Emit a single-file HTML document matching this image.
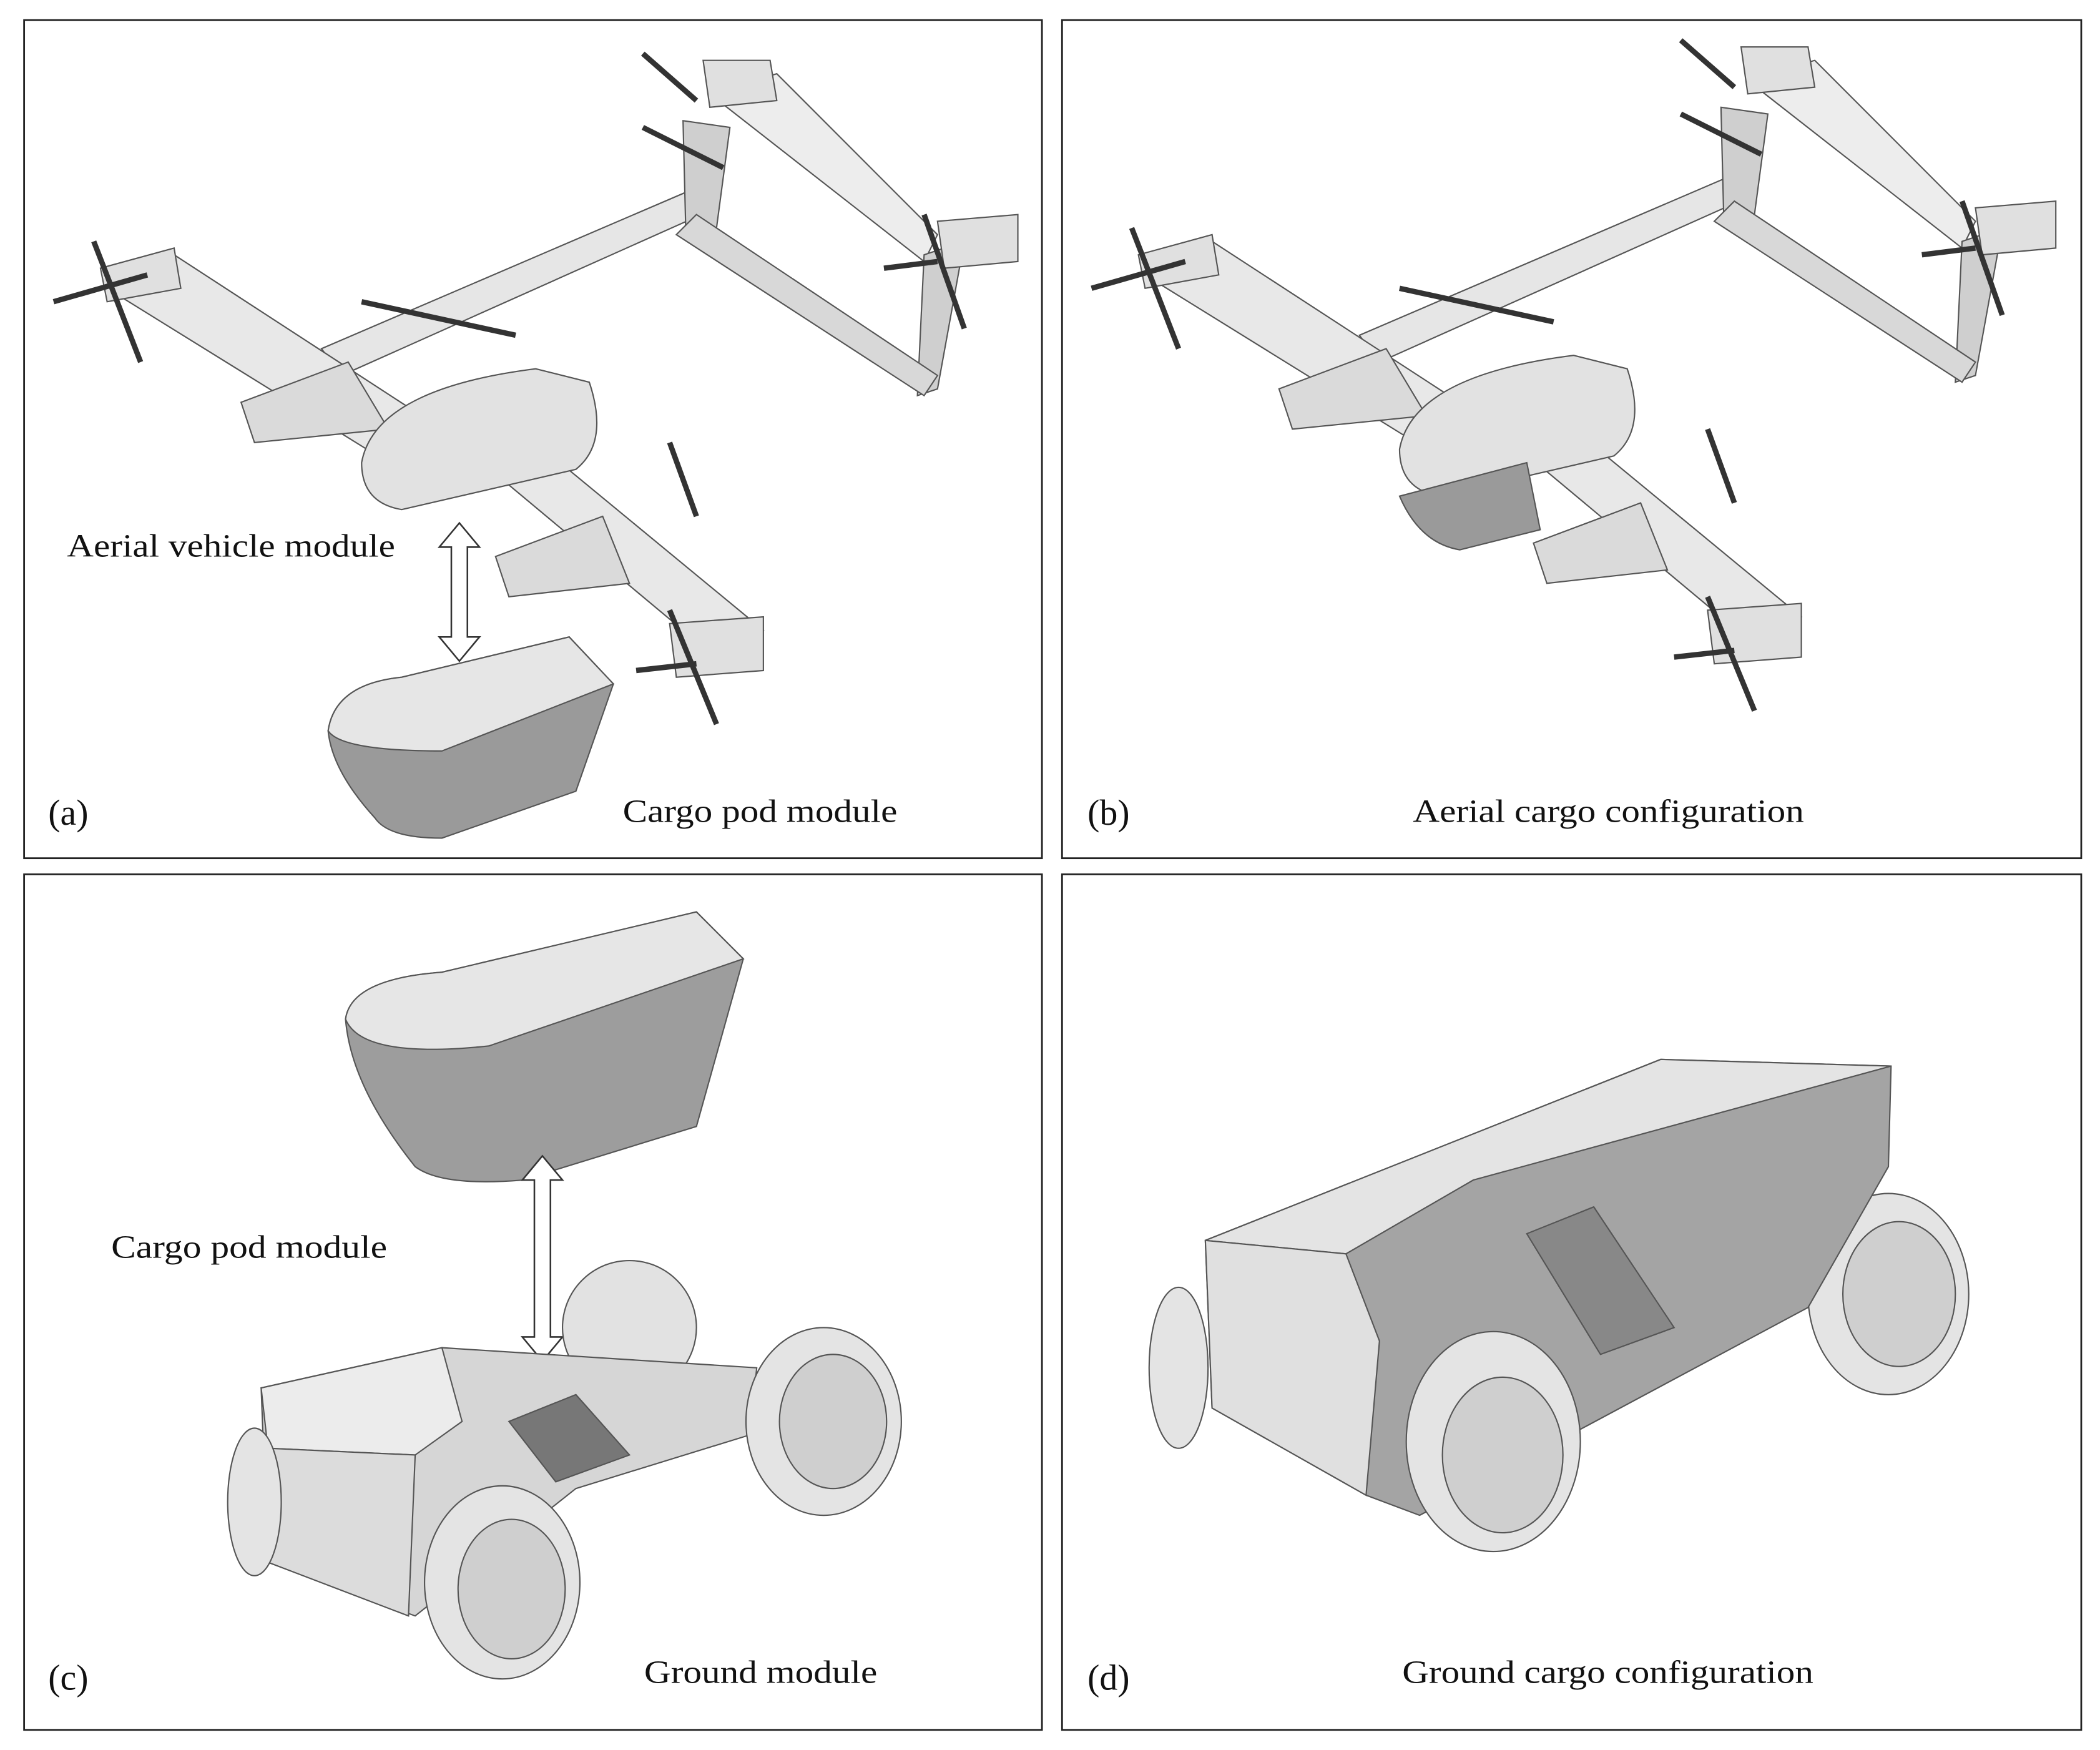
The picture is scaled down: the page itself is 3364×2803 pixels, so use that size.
<!DOCTYPE html>
<html><head><meta charset="utf-8"><style>
html,body{margin:0;padding:0;background:#fff;}
svg{display:block;}
text{font-family:"Liberation Serif",serif;fill:#111;}
</style></head><body>
<svg width="3364" height="2803" viewBox="0 0 1568 1305" preserveAspectRatio="none" xmlns="http://www.w3.org/2000/svg">
<rect width="1568" height="1305" fill="#fff"/>
<g fill="none" stroke="#222" stroke-width="1.3">
<rect x="18" y="15" width="760" height="625"/>
<rect x="793" y="15" width="761" height="625"/>
<rect x="18" y="652" width="760" height="638"/>
<rect x="793" y="652" width="761" height="638"/>
</g>

<g id="air" stroke="#555" stroke-width="1">
 <polygon points="240,260 520,140 535,155 255,280" fill="#e6e6e6"/>
 <polygon points="530,70 580,55 700,175 690,195" fill="#ededed"/>
 <polygon points="690,190 720,180 700,290 685,295" fill="#cfcfcf"/>
 <polygon points="510,90 545,95 535,170 512,170" fill="#cfcfcf"/>
 <polygon points="520,160 700,280 690,295 505,175" fill="#d8d8d8"/>
 <polygon points="525,45 575,45 580,75 530,80" fill="#e0e0e0"/>
 <polygon points="700,165 760,160 760,195 705,200" fill="#e0e0e0"/>
 <polygon points="80,215 130,190 330,320 290,345" fill="#e8e8e8"/>
 <polygon points="360,345 400,330 570,470 540,495" fill="#e8e8e8"/>
 <polygon points="180,300 260,270 290,320 190,330" fill="#dadada"/>
 <polygon points="370,415 450,385 470,435 380,445" fill="#dadada"/>
 <polygon points="500,465 570,460 570,500 505,505" fill="#e0e0e0"/>
 <polygon points="75,200 130,185 135,215 80,225" fill="#e0e0e0"/>
 <path d="M270,345 Q280,290 400,275 L440,285 Q455,330 430,350 L300,380 Q270,375 270,345Z" fill="#e2e2e2"/>
 <g stroke="#333" stroke-width="4">
 <line x1="40" y1="225" x2="110" y2="205"/><line x1="70" y1="180" x2="105" y2="270"/>
 <line x1="270" y1="225" x2="385" y2="250"/>
 <line x1="480" y1="40" x2="520" y2="75"/><line x1="480" y1="95" x2="540" y2="125"/>
 <line x1="660" y1="200" x2="700" y2="195"/><line x1="690" y1="160" x2="720" y2="245"/>
 <line x1="500" y1="330" x2="520" y2="385"/>
 <line x1="475" y1="500" x2="520" y2="495"/><line x1="500" y1="455" x2="535" y2="540"/>
 </g>
</g>
<path d="M343,390 L328,408 L337,408 L337,475 L328,475 L343,493 L358,475 L349,475 L349,408 L358,408 Z" fill="#fff" stroke="#333" stroke-width="1.2"/>
<path d="M245,545 Q250,510 300,505 L425,475 L458,510 L430,590 L330,625 Q290,625 280,610 Q248,575 245,545Z" fill="#9a9a9a" stroke="#555"/>
<path d="M245,545 Q250,510 300,505 L425,475 L458,510 L330,560 Q255,560 245,545Z" fill="#e6e6e6" stroke="#555"/>
<text x="36" y="615" font-size="27">(a)</text>
<text x="50" y="415" font-size="24" textLength="245" lengthAdjust="spacingAndGlyphs">Aerial vehicle module</text>
<text x="465" y="613" font-size="24" textLength="205" lengthAdjust="spacingAndGlyphs">Cargo pod module</text>

<use href="#air" x="775" y="-10"/>
<path d="M1045,370 L1140,345 L1150,395 L1090,410 Q1060,405 1045,370Z" fill="#9a9a9a" stroke="#555"/>
<text x="812" y="615" font-size="27">(b)</text>
<text x="1055" y="613" font-size="24" textLength="292" lengthAdjust="spacingAndGlyphs">Aerial cargo configuration</text>

<path d="M258,760 Q262,730 330,725 L520,680 L555,715 L520,840 L390,880 Q330,885 310,870 Q262,810 258,760Z" fill="#9d9d9d" stroke="#555"/>
<path d="M258,760 Q262,730 330,725 L520,680 L555,715 L365,780 Q270,790 258,760Z" fill="#e6e6e6" stroke="#555"/>
<path d="M405,862 L390,880 L399,880 L399,997 L390,997 L405,1015 L420,997 L411,997 L411,880 L420,880 Z" fill="#fff" stroke="#333" stroke-width="1.2"/>
<g stroke="#555">
 <circle cx="470" cy="990" r="50" fill="#e2e2e2"/>
 <polygon points="195,1035 330,1005 565,1020 560,1070 430,1110 310,1205 200,1165" fill="#d6d6d6"/>
 <polygon points="195,1035 330,1005 345,1060 310,1085 200,1080" fill="#ececec"/>
 <polygon points="200,1080 310,1085 305,1205 200,1165" fill="#dcdcdc"/>
 <polygon points="380,1060 430,1040 470,1085 415,1105" fill="#777"/>
 <ellipse cx="615" cy="1060" rx="58" ry="70" fill="#e4e4e4"/><ellipse cx="622" cy="1060" rx="40" ry="50" fill="#cfcfcf"/>
 <ellipse cx="375" cy="1180" rx="58" ry="72" fill="#e4e4e4"/><ellipse cx="382" cy="1185" rx="40" ry="52" fill="#cfcfcf"/>
 <ellipse cx="190" cy="1120" rx="20" ry="55" fill="#e4e4e4"/>
</g>
<text x="36" y="1260" font-size="27">(c)</text>
<text x="83" y="938" font-size="24" textLength="206" lengthAdjust="spacingAndGlyphs">Cargo pod module</text>
<text x="481" y="1255" font-size="24" textLength="174" lengthAdjust="spacingAndGlyphs">Ground module</text>

<g stroke="#555">
 <ellipse cx="1410" cy="965" rx="60" ry="75" fill="#e4e4e4"/><ellipse cx="1418" cy="965" rx="42" ry="54" fill="#cfcfcf"/>
 <polygon points="900,925 1240,790 1412,795 1410,870 1350,975 1060,1130 1020,1115 905,1050" fill="#a4a4a4"/>
 <polygon points="900,925 1240,790 1412,795 1100,880 1005,935" fill="#e4e4e4"/>
 <polygon points="900,925 1005,935 1030,1000 1020,1115 905,1050" fill="#e0e0e0"/>
 <polygon points="1140,920 1190,900 1250,990 1195,1010" fill="#888"/>
 <ellipse cx="1115" cy="1075" rx="65" ry="82" fill="#e4e4e4"/><ellipse cx="1122" cy="1085" rx="45" ry="58" fill="#cfcfcf"/>
 <ellipse cx="880" cy="1020" rx="22" ry="60" fill="#e4e4e4"/>
</g>
<text x="812" y="1260" font-size="27">(d)</text>
<text x="1047" y="1255" font-size="24" textLength="307" lengthAdjust="spacingAndGlyphs">Ground cargo configuration</text>
</svg>
</body></html>
